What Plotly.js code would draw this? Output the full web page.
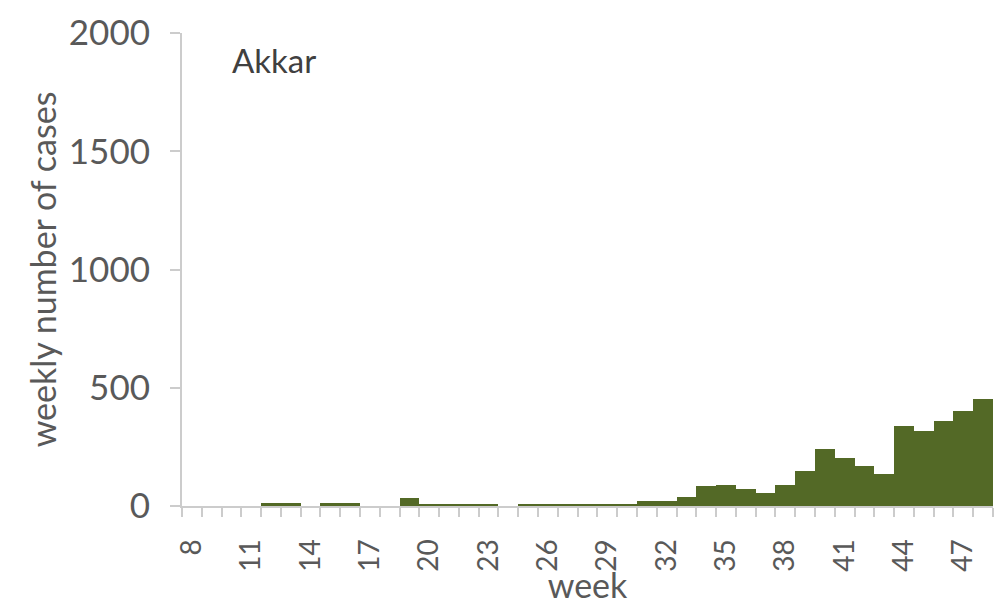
<!DOCTYPE html>
<html>
<head>
<meta charset="utf-8">
<script src="https://cdn.plot.ly/plotly-3.0.1.min.js"></script>
<style>html,body{margin:0;padding:0;background:#fff;}#chart{width:1004px;height:605px;}</style>
</head>
<body>
<div id="chart"></div>
<script>
const weeks = [8,9,10,11,12,13,14,15,16,17,18,19,20,21,22,23,24,25,26,27,28,29,30,31,32,33,34,35,36,37,38,39,40,41,42,43,44,45,46,47,48];
const cases = [0,0,0,0,12,12,0,12,12,0,0,35,10,10,10,10,0,10,10,10,10,10,10,20,20,40,85,90,70,55,90,150,240,205,170,135,340,318,360,400,452];
const xTickVals = [8,11,14,17,20,23,26,29,32,35,38,41,44,47];
const xTickText = ["8","11","14","17","20","23","26","29","32","35","38","41","44","47"];
const yTickVals = [0,500,1000,1500,2000];
const regionName = "Akkar";

const fontFamily = "Lato, 'Open Sans', sans-serif";
const textGray = "#595959";
const axisGray = "#cccccc";

const trace = {
  type: "bar",
  x: weeks,
  y: cases,
  marker: {color: "#536926", line: {width: 0}},
  width: 1,
  hoverinfo: "x+y"
};

const layout = {
  width: 1004,
  height: 605,
  margin: {l: 182, r: 11, t: 33, b: 99, pad: 0},
  paper_bgcolor: "#ffffff",
  plot_bgcolor: "#ffffff",
  showlegend: false,
  bargap: 0,
  font: {family: fontFamily, color: textGray},
  xaxis: {
    type: "linear",
    range: [7.5, 48.5],
    tickmode: "array",
    tickvals: xTickVals,
    ticktext: xTickText,
    tickangle: -90,
    ticks: "",
    tickfont: {size: 28, color: textGray, family: fontFamily},
    ticklabelstandoff: 20,
    showgrid: false,
    zeroline: false,
    showline: true,
    linecolor: axisGray,
    linewidth: 2,
    minor: {tickmode: "linear", tick0: 7.5, dtick: 1, ticks: "outside", ticklen: 9, tickcolor: axisGray, tickwidth: 2, showgrid: false},
    title: {text: "week", font: {size: 34, color: textGray, family: fontFamily}, standoff: 4},
    fixedrange: true
  },
  yaxis: {
    range: [0, 2000],
    tickmode: "array",
    tickvals: yTickVals,
    ticks: "outside",
    ticklen: 10,
    tickcolor: axisGray,
    tickwidth: 2,
    tickfont: {size: 35, color: textGray, family: fontFamily},
    ticklabelstandoff: 13,
    showgrid: false,
    zeroline: false,
    showline: true,
    linecolor: axisGray,
    linewidth: 2,
    title: {text: "weekly number of cases", font: {size: 34, color: textGray, family: fontFamily}, standoff: 2},
    fixedrange: true
  },
  annotations: [{
    text: regionName,
    xref: "paper", yref: "paper",
    x: (274 - 182) / (993 - 182), y: 1 - (60 - 33) / (505.7 - 33),
    xanchor: "center", yanchor: "middle",
    showarrow: false,
    font: {size: 33, color: "#404040", family: fontFamily}
  }]
};

Plotly.newPlot("chart", [trace], layout, {displayModeBar: false, staticPlot: true});
</script>
</body>
</html>
